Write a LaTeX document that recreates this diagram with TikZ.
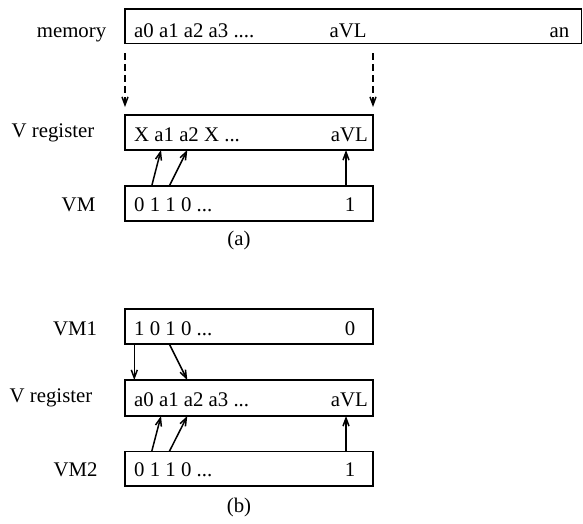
\documentclass[tikz,border=0pt]{standalone}
\usepackage{fontspec}
\setmainfont{Liberation Serif}
\usetikzlibrary{arrows.meta,calc}
\begin{document}
\begin{tikzpicture}[x=1pt,y=-1pt,
  box/.style={draw,line width=1.5pt,minimum width=248pt,minimum height=35pt,inner sep=0pt,outer sep=0pt,anchor=north west},
  txt/.style={inner sep=0pt,font=\fontsize{20.8}{24}\selectfont},
  arr/.style={line width=1.5pt,-{Straight Barb[length=8pt,width=6pt,line width=1.5pt]}},
  darr/.style={arr,dash pattern=on 6.5pt off 4.5pt}]
\useasboundingbox (0,0) rectangle (583,523);
% (a)
\node[box,minimum width=456.5pt,minimum height=34.5pt] (mem) at (125,9) {};
\node[txt,anchor=base west] (memL) at (134,37) {a0 a1 a2 a3 ....};
\node[txt,anchor=base] (memM) at (348,37) {aVL};
\node[txt,anchor=base] (memR) at (559.5,37) {an};
\node[txt,anchor=base] (memlab) at (71.5,37) {memory};

\node[box] (vra) at (125,115) {};
\node[txt,anchor=base west] (vraL) at (134,141.5) {X a1 a2 X ...};
\node[txt,anchor=base east] (vraR) at (368,141.5) {aVL};
\node[txt,anchor=base] (vralab) at (53,137) {V register};

\node[box] (vma) at (125,186) {};
\node[txt,anchor=base west] (vmaL) at (134,211.5) {0 1 1 0 ...};
\node[txt,anchor=base] (vmaR) at (350,211.5) {1};
\node[txt,anchor=base] (vmalab) at (78.5,211.5) {VM};

\draw[darr] ($(mem.south west)+(0,9.5)$) -- ($(vra.north west)+(0,-8)$);
\draw[darr] ($(mem.south west)+(248,9.5)$) -- ($(vra.north east)+(0,-8)$);

\draw[arr] ($(vma.north west)+(26.7,0)$) -- ($(vra.south west)+(36,0)$);
\draw[arr] ($(vma.north west)+(44.3,0)$) -- ($(vra.south west)+(62.3,0)$);
\draw[arr] ($(vma.north west)+(221,0)$) -- ($(vra.south west)+(221,0)$);

\node[txt,anchor=base] (capa) at (239,245) {(a)};

% (b)
\node[box] (vm1) at (125,309) {};
\node[txt,anchor=base west] (vm1L) at (134,335) {1 0 1 0 ...};
\node[txt,anchor=base] (vm1R) at (350,335) {0};
\node[txt,anchor=base] (vm1lab) at (75,335) {VM1};

\node[box,minimum height=36pt] (vrb) at (125,380) {};
\node[txt,anchor=base west] (vrbL) at (134,406.5) {a0 a1 a2 a3 ...};
\node[txt,anchor=base east] (vrbR) at (368,406.5) {aVL};
\node[txt,anchor=base] (vrblab) at (51,402) {V register};

\node[box,minimum height=34.5pt] (vm2) at (125,451.5) {};
\node[txt,anchor=base west] (vm2L) at (134,476.5) {0 1 1 0 ...};
\node[txt,anchor=base] (vm2R) at (350,476.5) {1};
\node[txt,anchor=base] (vm2lab) at (75.5,476.5) {VM2};

\draw[arr] ($(vm1.south west)+(9.3,0)$) -- ($(vrb.north west)+(9.3,0)$);
\draw[arr] ($(vm1.south west)+(44.3,0)$) -- ($(vrb.north west)+(62.3,0)$);

\draw[arr] ($(vm2.north west)+(26.7,0)$) -- ($(vrb.south west)+(36,0)$);
\draw[arr] ($(vm2.north west)+(44.3,0)$) -- ($(vrb.south west)+(62.3,0)$);
\draw[arr] ($(vm2.north west)+(221,0)$) -- ($(vrb.south west)+(221,0)$);

\node[txt,anchor=base] (capb) at (239,512) {(b)};
\end{tikzpicture}
\end{document}
